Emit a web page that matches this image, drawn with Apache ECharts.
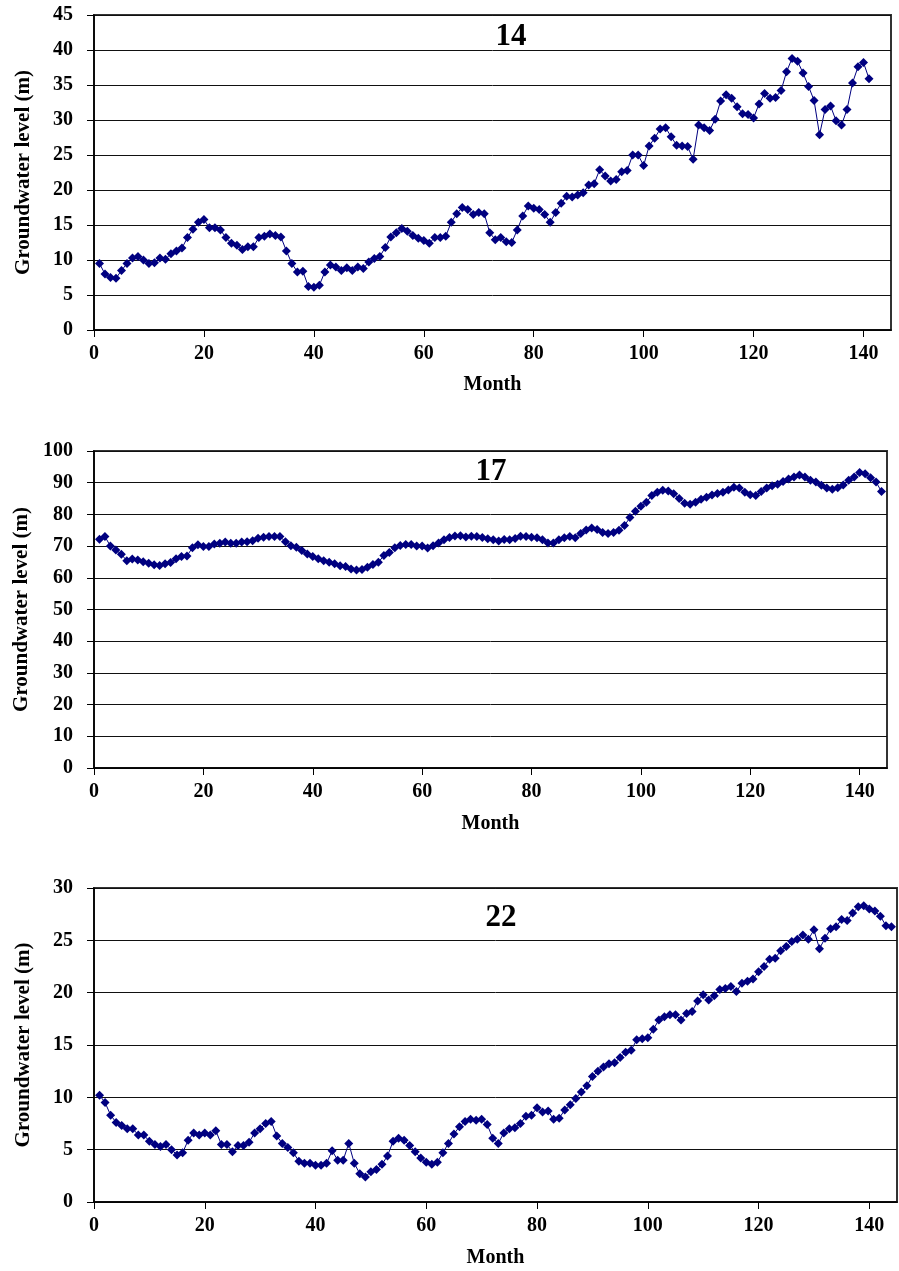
<!DOCTYPE html>
<html>
<head>
<meta charset="utf-8">
<script src="https://cdn.jsdelivr.net/npm/echarts@6/dist/echarts.min.js"></script>
<style>
  html, body { margin: 0; padding: 0; background: #fff; }
  #chart { width: 899px; height: 1271px; }
</style>
</head>
<body>
<div id="chart"></div>
<script>
// ---- Data (groundwater level, m) by month ----
const panelTitles = ['14', '17', '22'];

const well14 = [9.5, 8.0, 7.5, 7.4, 8.5, 9.5, 10.3, 10.5, 10.0, 9.5,
  9.6, 10.3, 10.1, 10.9, 11.3, 11.7, 13.2, 14.4, 15.4, 15.8,
  14.6, 14.6, 14.3, 13.2, 12.4, 12.1, 11.5, 11.9, 11.9, 13.2,
  13.4, 13.7, 13.5, 13.3, 11.3, 9.5, 8.3, 8.4, 6.2, 6.1,
  6.4, 8.3, 9.3, 9.0, 8.5, 8.9, 8.5, 9.0, 8.8, 9.7,
  10.2, 10.5, 11.8, 13.3, 13.9, 14.5, 14.1, 13.5, 13.1, 12.8,
  12.4, 13.2, 13.2, 13.4, 15.4, 16.6, 17.5, 17.2, 16.5, 16.8,
  16.6, 13.9, 12.9, 13.2, 12.6, 12.5, 14.3, 16.3, 17.7, 17.4,
  17.2, 16.5, 15.4, 16.8, 18.1, 19.1, 19.0, 19.3, 19.6, 20.7,
  20.9, 22.9, 22.0, 21.3, 21.5, 22.6, 22.8, 25.0, 25.0, 23.5,
  26.3, 27.4, 28.7, 28.9, 27.6, 26.4, 26.3, 26.2, 24.4, 29.3,
  28.9, 28.5, 30.1, 32.7, 33.6, 33.1, 31.9, 30.9, 30.8, 30.3,
  32.3, 33.8, 33.1, 33.2, 34.2, 36.9, 38.8, 38.4, 36.7, 34.8,
  32.8, 27.9, 31.5, 32.0, 29.9, 29.3, 31.5, 35.3, 37.6, 38.2,
  35.9];

const well17 = [72.2, 73.0, 70.0, 68.8, 67.4, 65.4, 65.9, 65.6, 65.1, 64.6,
  64.1, 63.9, 64.4, 64.8, 66.0, 66.7, 66.9, 69.5, 70.4, 69.9,
  69.9, 70.7, 70.9, 71.3, 70.9, 70.9, 71.3, 71.4, 71.7, 72.5,
  72.8, 73.0, 73.0, 73.0, 71.4, 70.1, 69.6, 68.6, 67.5, 66.7,
  66.0, 65.4, 64.9, 64.4, 63.8, 63.6, 62.8, 62.5, 62.6, 63.3,
  64.2, 64.9, 67.0, 68.0, 69.5, 70.2, 70.5, 70.5, 70.0, 70.0,
  69.4, 70.1, 71.0, 72.0, 72.7, 73.2, 73.3, 72.9, 73.1, 73.0,
  72.7, 72.3, 72.0, 71.6, 72.1, 72.0, 72.4, 73.1, 73.0, 72.8,
  72.6, 72.0, 71.0, 71.0, 72.0, 72.6, 73.0, 72.6, 74.0, 75.1,
  75.7, 75.2, 74.3, 74.0, 74.3, 75.0, 76.5, 79.0, 81.0, 82.6,
  83.8, 86.0, 87.0, 87.6, 87.4, 86.5, 85.0, 83.5, 83.2, 83.8,
  84.8, 85.4, 86.1, 86.6, 87.0, 87.7, 88.6, 88.3, 87.0, 86.2,
  86.0, 87.2, 88.3, 89.0, 89.5, 90.4, 91.2, 91.8, 92.4, 91.8,
  90.8, 90.2, 89.2, 88.3, 87.9, 88.4, 89.3, 90.8, 91.8, 93.2,
  92.8, 91.6, 90.2, 87.2];

const well22 = [10.2, 9.5, 8.3, 7.6, 7.3, 7.0, 7.0, 6.4, 6.4, 5.8,
  5.5, 5.3, 5.5, 5.0, 4.5, 4.7, 5.9, 6.6, 6.4, 6.6,
  6.4, 6.8, 5.5, 5.5, 4.8, 5.4, 5.4, 5.7, 6.6, 7.0,
  7.5, 7.7, 6.3, 5.6, 5.2, 4.7, 3.9, 3.7, 3.7, 3.5,
  3.5, 3.7, 4.9, 4.0, 4.0, 5.6, 3.7, 2.7, 2.4, 2.9,
  3.1, 3.6, 4.4, 5.8, 6.1, 5.9, 5.4, 4.8, 4.2, 3.8,
  3.6, 3.8, 4.7, 5.6, 6.5, 7.2, 7.7, 7.9, 7.8, 7.9,
  7.4, 6.1, 5.6, 6.6, 7.0, 7.1, 7.5, 8.2, 8.3, 9.0,
  8.6, 8.7, 7.9, 8.0, 8.8, 9.3, 9.9, 10.5, 11.1, 12.0,
  12.5, 12.9, 13.2, 13.3, 13.8, 14.3, 14.5, 15.5, 15.6, 15.7,
  16.5, 17.4, 17.7, 17.9, 17.9, 17.4, 18.0, 18.2, 19.2, 19.8,
  19.3, 19.7, 20.3, 20.4, 20.6, 20.1, 20.9, 21.1, 21.3, 22.0,
  22.5, 23.2, 23.3, 24.0, 24.4, 24.9, 25.1, 25.5, 25.1, 26.0,
  24.2, 25.2, 26.1, 26.3, 27.0, 26.9, 27.6, 28.2, 28.3, 28.0,
  27.8, 27.3, 26.4, 26.3];

const xTicks = [0, 20, 40, 60, 80, 100, 120, 140];
const yMax = [45, 100, 30];
const yStep = [5, 10, 5];
const seriesValues = [well14, well17, well22];

// ---- Layout ----
const grids = [
  { left: 94, top: 15, right: 8, height: 315 },
  { left: 94, top: 451, right: 12, height: 317 },
  { left: 94, top: 888, right: 2, height: 314 }
];
const titlePos = [[511, 37], [491, 472], [501, 918]];
const monthGap = [45, 46, 46];

const FONT = '"Liberation Serif", "Times New Roman", serif';
const NAVY = '#000080';

const option = {
  animation: false,
  backgroundColor: '#ffffff',
  grid: grids.map(g => Object.assign({
    show: true, borderColor: '#333', borderWidth: 2, backgroundColor: 'transparent',
    containLabel: false
  }, g)),
  xAxis: grids.map((g, i) => ({
    type: 'value', gridIndex: i, min: 0, max: 145, interval: 20,
    name: 'Month', nameLocation: 'middle', nameGap: monthGap[i],
    nameTextStyle: { fontFamily: FONT, fontWeight: 'bold', fontSize: 20, color: '#000' },
    axisLine: { show: true, lineStyle: { color: '#000', width: 1.5 } },
    axisTick: { show: true, length: 7, inside: false, lineStyle: { color: '#000', width: 1 },
      customValues: xTicks },
    axisLabel: { fontFamily: FONT, fontWeight: 'bold', fontSize: 20, color: '#000', margin: 14,
      customValues: xTicks },
    splitLine: { show: false }
  })),
  yAxis: grids.map((g, i) => ({
    type: 'value', gridIndex: i, min: 0, max: yMax[i], interval: yStep[i],
    name: 'Groundwater level (m)', nameLocation: 'middle', nameGap: 60, nameRotate: 90,
    nameTextStyle: { fontFamily: FONT, fontWeight: 'bold', fontSize: 21, color: '#000' },
    axisLine: { show: true, lineStyle: { color: '#000', width: 1.5 } },
    axisTick: { show: true, length: 7, inside: false, lineStyle: { color: '#000', width: 1 } },
    axisLabel: { fontFamily: FONT, fontWeight: 'bold', fontSize: 20, color: '#000', margin: 21 },
    splitLine: { show: true, lineStyle: { color: '#111', width: 1 } }
  })),
  series: seriesValues.map((vals, i) => ({
    type: 'line', xAxisIndex: i, yAxisIndex: i,
    data: vals.map((v, k) => [k + 1, v]),
    symbol: 'diamond', symbolSize: 9, showAllSymbol: true,
    lineStyle: { color: NAVY, width: 1 },
    itemStyle: { color: NAVY },
    z: 5
  })),
  graphic: panelTitles.map((t, i) => ({
    type: 'text', x: titlePos[i][0], y: titlePos[i][1], z: 10,
    style: { text: t, fontFamily: FONT, fontWeight: 'bold', fontSize: 31, fill: '#000',
      textAlign: 'center', textVerticalAlign: 'middle' }
  }))
};

const chart = echarts.init(document.getElementById('chart'), null, { renderer: 'canvas' });
chart.setOption(option);
</script>
</body>
</html>
